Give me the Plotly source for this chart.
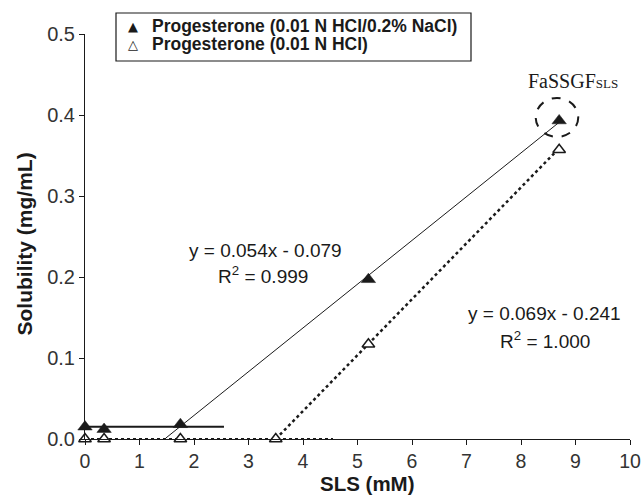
import plotly.graph_objects as go

# Data
sls_filled = [0.0, 0.35, 1.75, 5.2, 8.7]
sol_filled = [0.015, 0.012, 0.018, 0.197, 0.393]
sls_open = [0.0, 0.35, 1.75, 3.5, 5.2, 8.7]
sol_open = [0.0, 0.0, 0.0, 0.0, 0.117, 0.357]

# Trend / baseline segments (end points)
base1_x = [0.0, 2.55]
base1_y = [0.015, 0.015]
fit1_x = [1.48, 8.7]
fit1_y = [0.001, 0.391]
base2_x = [0.0, 4.55]
base2_y = [0.0, 0.0]
fit2_x = [3.5, 8.7]
fit2_y = [0.0, 0.359]

xticks = [0, 1, 2, 3, 4, 5, 6, 7, 8, 9, 10]
yticks = [0.0, 0.1, 0.2, 0.3, 0.4, 0.5]

legend_labels = ["Progesterone (0.01 N HCl/0.2% NaCl)", "Progesterone (0.01 N HCl)"]
eq1 = ["y = 0.054x - 0.079", "R<sup>2</sup> = 0.999"]
eq2 = ["y = 0.069x - 0.241", "R<sup>2</sup> = 1.000"]
x_title = "SLS (mM)"
y_title = "Solubility (mg/mL)"

FONT = "Liberation Sans, Arial, sans-serif"
INK = "#1a1a1a"

L, R, T, B = 85, 11, 34, 56
PW = 641 - L - R
PH = 495 - T - B

fig = go.Figure()

fig.add_trace(go.Scatter(x=base1_x, y=base1_y, mode="lines",
                         line=dict(color=INK, width=2), showlegend=False))
fig.add_trace(go.Scatter(x=fit1_x, y=fit1_y, mode="lines",
                         line=dict(color=INK, width=1), showlegend=False))
fig.add_trace(go.Scatter(x=base2_x, y=base2_y, mode="lines",
                         line=dict(color=INK, width=2, dash="dot"), showlegend=False,
                         cliponaxis=False))
fig.add_trace(go.Scatter(x=fit2_x, y=fit2_y, mode="lines",
                         line=dict(color=INK, width=2.5, dash="dot"), showlegend=False))

fig.add_trace(go.Scatter(x=sls_open, y=sol_open, mode="markers",
                         marker=dict(symbol="triangle-up", size=11, color="white",
                                     line=dict(color=INK, width=1.5)),
                         showlegend=False, cliponaxis=False))
fig.add_trace(go.Scatter(x=sls_filled, y=sol_filled, mode="markers",
                         marker=dict(symbol="triangle-up", size=12.5, color=INK,
                                     line=dict(color=INK, width=0.5)),
                         showlegend=False, cliponaxis=False))

# dashed circle around FaSSGF point
fig.add_shape(type="circle", xref="x", yref="y", x0=8.27, x1=9.05, y0=0.373, y1=0.421,
              line=dict(color=INK, width=2, dash="dash"))

# manual legend box (pixel positions converted to paper fractions)
def px(xp):
    return (xp - L) / PW


def py(yp):
    return (495 - B - yp) / PH


fig.add_shape(type="rect", xref="paper", yref="paper", x0=px(116), x1=px(471),
              y0=py(61), y1=py(13), line=dict(color=INK, width=1.2), fillcolor="white")
for i, (lab, glyph) in enumerate(zip(legend_labels, ["\u25B2", "\u25B3"])):
    yy = py(26 + 18 * i)
    fig.add_annotation(xref="paper", yref="paper", x=px(132.7), y=yy, text=glyph,
                       showarrow=False, xanchor="center", yanchor="middle",
                       font=dict(family="DejaVu Sans", size=13, color=INK))
    fig.add_annotation(xref="paper", yref="paper", x=px(150), y=yy, text="<b>" + lab + "</b>",
                       showarrow=False, xanchor="left", yanchor="middle",
                       font=dict(family=FONT, size=17.5, color=INK))

# equations
fig.add_annotation(x=3.31, y=0.233, text=eq1[0], showarrow=False,
                   font=dict(family=FONT, size=19, color=INK))
fig.add_annotation(x=3.27, y=0.202, text=eq1[1], showarrow=False,
                   font=dict(family=FONT, size=19, color=INK))
fig.add_annotation(x=8.44, y=0.155, text=eq2[0], showarrow=False,
                   font=dict(family=FONT, size=19, color=INK))
fig.add_annotation(x=8.44, y=0.122, text=eq2[1], showarrow=False,
                   font=dict(family=FONT, size=19, color=INK))

fig.add_annotation(x=8.96, y=0.442, text='FaSSGF<span style="font-size:13px">SLS</span>',
                   showarrow=False,
                   font=dict(family="Liberation Serif, Times New Roman, serif", size=20, color=INK))

# axis titles as annotations (pixel-tuned positions)
fig.add_annotation(xref="paper", yref="paper", x=px(367), y=py(483),
                   text="<b>" + x_title + "</b>", showarrow=False, borderpad=0,
                   xanchor="center", yanchor="middle",
                   font=dict(family=FONT, size=20.5, color=INK))
fig.add_annotation(xref="paper", yref="paper", x=px(23.5), y=py(244),
                   text="<b>" + y_title + "</b>", showarrow=False, textangle=-90, borderpad=0,
                   xanchor="center", yanchor="middle",
                   font=dict(family=FONT, size=21, color=INK))

fig.update_layout(
    width=641, height=495,
    margin=dict(l=L, r=R, t=T, b=B, autoexpand=False),
    paper_bgcolor="white", plot_bgcolor="white",
    showlegend=False,
    font=dict(family=FONT, color=INK),
)
fig.update_xaxes(range=[0, 10], tickvals=xticks, ticks="outside", ticklen=5, tickwidth=1,
                 tickcolor=INK, showline=True, linecolor=INK, linewidth=1,
                 showgrid=False, zeroline=False, ticklabeloverflow="allow", automargin=False,
                 tickfont=dict(family=FONT, size=19.5, color="#333"))
fig.update_yaxes(range=[0, 0.5], tickvals=yticks, tickformat=".1f", ticks="outside",
                 ticklen=5, tickwidth=1, tickcolor=INK, showline=True, linecolor=INK,
                 linewidth=1, showgrid=False, zeroline=False, ticklabeloverflow="allow",
                 automargin=False,
                 tickfont=dict(family=FONT, size=20, color="#333"))

fig.write_html("out.html")
